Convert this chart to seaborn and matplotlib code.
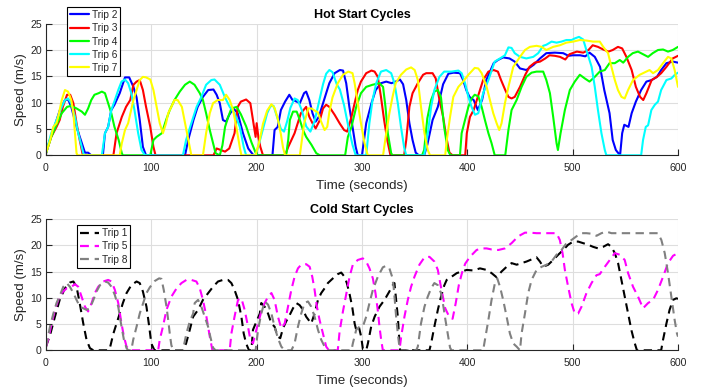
import matplotlib
matplotlib.use("Agg")
import matplotlib.pyplot as plt
from matplotlib.lines import Line2D
import seaborn as sns
import pandas as pd

# ---------------- Hot start trips (time in s, speed in m/s) ----------------
trip2_t = [0, 3, 7, 13, 18, 21, 24, 29, 34, 37, 40, 43,
           54, 56, 59, 62, 65, 70, 75, 79, 83, 86, 89, 92, 95,
           132, 135, 140, 144, 149, 154, 159, 162, 165, 168, 171, 174, 178, 182, 187, 192, 197,
           215, 217, 220, 223, 227, 231, 234, 238, 241, 245, 247, 250, 253, 256, 259, 263, 266, 269,
           274, 279, 282, 285, 288, 291, 294, 296,
           300, 304, 309, 313, 318, 323, 328, 332, 336, 339, 342, 345, 348, 351, 354,
           359, 362, 367, 372, 377, 382, 387, 393, 396, 399, 402, 406, 410, 414, 418, 425, 429, 434,
           440, 445, 450, 456, 463, 469, 475, 483, 491, 496, 500, 507, 512, 516, 521, 526, 530, 535,
           538, 541, 545, 547, 549, 553, 556, 560, 565, 570, 575, 580, 584, 589, 595, 600]
trip2_v = [0.4, 2.5, 4.8, 8.5, 10.5, 10.6, 9.2, 5.4, 2.3, 0.5, 0.5, 0,
           0, 4.2, 5.4, 8.6, 9.6, 11.8, 14.8, 14.8, 13, 11, 6.7, 1.6, 0,
           0, 2.9, 6.7, 9.2, 11.1, 12.4, 12.5, 11.5, 9.9, 6.7, 6.4, 7.7, 8.9, 8, 4.2, 1.3, 0,
           0, 4.8, 5.4, 8.6, 10.2, 11.5, 10.5, 10.2, 9.9, 11.8, 12.1, 10.5, 8, 6.4, 7.3, 9.9, 11.8, 13.7,
           15.6, 16.2, 16.1, 13.7, 9.2, 5.4, 1.6, 0,
           0, 6.1, 9.9, 12.4, 13.7, 14, 13.7, 14, 14.4, 13.5, 10.5, 6.1, 2.9, 0.5, 0,
           0, 2, 6.7, 9.2, 13.5, 15.5, 15.7, 15.6, 14.3, 12.4, 11.1, 10.5, 8.6, 10.5, 14.3, 17.5, 18.1, 18.6,
           18.4, 17.8, 16.5, 16.2, 17.2, 18.4, 19.4, 19.5, 19.4, 18.9, 19, 19, 18.8, 19.5, 18.7, 16.8, 12.4, 8,
           2.9, 1, 0, 4.2, 5.8, 5.4, 8, 10.2, 12.4, 14, 14.3, 14.9, 16.2, 17.5, 17.8, 17.6]

trip3_t = [0, 5, 10, 13, 16, 20, 23, 26, 29, 32, 35,
           64, 67, 72, 76, 80, 83, 86, 89, 92, 95, 99, 102, 104,
           159, 162, 166, 170, 174, 179, 182, 185, 190, 194, 197, 199, 200, 201.6, 203.5, 206,
           227, 230, 233, 236, 239, 242, 247, 250, 253, 256, 260, 263, 266, 269, 274, 279, 283, 286,
           290, 293, 296, 299, 304, 309, 312, 315, 318, 321, 324, 327,
           340, 342, 345, 348, 353, 358, 361, 367, 370, 373, 377, 380, 383, 386,
           398, 399.5, 402.5, 406, 409, 412, 415, 420, 425, 429, 432, 436, 439, 442, 445, 450, 455, 459,
           464, 469, 474, 478, 483, 488, 493, 497, 504, 510, 515, 519, 524, 529, 534, 538, 543, 547,
           551, 556, 560, 564, 567, 570, 575, 580, 584, 589, 595, 600]
trip3_v = [0.4, 3.5, 5.4, 6.7, 9.2, 11.5, 11.5, 9.9, 6.1, 2.9, 0,
           0, 4.2, 7.3, 9.2, 10.5, 13.4, 14, 14.3, 12.4, 9.2, 5.4, 1.6, 0,
           0, 1.3, 1, 0.7, 1.3, 4.2, 9.2, 10.2, 10.6, 9.9, 6, 3.5, 6.1, 3.5, 1.6, 0,
           0, 1.6, 2.9, 4.2, 6.1, 8, 9.2, 7.3, 6.1, 5.1, 6.7, 8.9, 9.6, 9.2, 7.7, 6, 4.8, 4.5,
           7.3, 9.9, 12.4, 14, 15.6, 16.1, 15.9, 14.9, 11.1, 6.7, 2.9, 0,
           0, 2.9, 9.2, 11.8, 13.7, 15.3, 15.6, 15.6, 14.6, 11.1, 7.3, 3.5, 0.5, 0,
           0, 4.2, 7.3, 8.6, 10.5, 12.4, 14.3, 15.9, 16.2, 15.9, 14.3, 12.4, 11.1, 10.8, 11.1, 13, 15.3, 16.8,
           17.6, 17.8, 18.4, 19, 18.9, 18.7, 18.2, 19.2, 19.7, 19.5, 20, 20.9, 20.6, 20.1, 19.7, 20, 20.6, 20.3,
           18.7, 16.2, 13, 11.1, 10.5, 11.8, 14.3, 14.9, 15.6, 16.8, 18.4, 18.9]

trip4_t = [0, 5, 10, 15, 20, 24, 29, 34, 37, 40, 43, 46, 50, 53, 56, 59, 62, 65, 69, 72, 73,
           99, 102, 105, 110, 114, 117.5, 122, 127, 132, 136.5, 141, 146, 149, 152, 155.5, 158.6, 161,
           165, 167.5, 170, 173, 176, 181, 185, 190, 195, 199, 201,
           228, 230, 231.5, 234.5, 238, 241, 244, 247, 252, 256.6, 260,
           284, 286.6, 290, 294.5, 299, 304, 310, 316.6, 320, 322.3, 324.5, 327.7, 329,
           357, 359, 362, 365.6, 368.7, 372, 375, 378, 381.4, 384,
           393, 394.6, 397.8, 401, 404, 407, 410.4, 413.6, 416.7, 420, 423, 426,
           436, 439, 442, 446.8, 451.5, 456, 461, 465.7, 472, 475, 478.4, 481.5, 484.7, 486, 488.5,
           492.6, 497.3, 502, 506.8, 511.5, 516, 521, 525.7, 530.5, 535, 540, 544.7, 548, 552.6, 557,
           562, 566.8, 571.6, 576, 581, 585.8, 590.5, 595, 600]
trip4_v = [0.4, 3.5, 5.8, 8, 9.2, 9.4, 8.9, 8.3, 7.7, 8.9, 10.5, 11.5, 11.8, 12.1, 11.8, 9.9, 8, 5.4, 2.9, 0.4, 0,
           0, 2.9, 3.5, 4.2, 6.7, 8.6, 10.5, 12.1, 13.4, 14, 13.4, 11.8, 10.5, 8, 4.8, 2.3, 0.4,
           0, 1.9, 5.4, 7.3, 8.9, 9.2, 7.8, 5.5, 2.5, 0.5, 0,
           0, 3, 6.7, 8.3, 8.3, 6.7, 4.8, 3.5, 2, 0.4, 0,
           0, 3.5, 5.4, 9.2, 11.8, 13, 13.4, 13.7, 13, 9.2, 4.2, 0.4, 0,
           0, 1, 7, 10.5, 12.1, 12.4, 11, 5.4, 1, 0,
           0, 4.2, 6.7, 9.2, 10.8, 11.5, 11.2, 9.2, 6.7, 4.2, 2.3, 0,
           0, 4.8, 8.6, 10.5, 13, 14.9, 15.7, 15.9, 15.9, 14.3, 11.8, 7.3, 2.3, 1, 4.2,
           8.6, 12.4, 14, 15.3, 14.6, 14, 14.9, 15.9, 16.2, 17.5, 17.5, 18.1, 17.6, 18.7, 19.4,
           19.7, 19.2, 18.7, 19.4, 20, 20.1, 19.7, 20, 20.6]

trip6_t = [0, 5, 10, 15, 18, 21, 24, 27.5, 30.6, 34, 36,
           53, 56, 59, 62, 65.4, 68.6, 71.7, 75, 78, 81, 84, 87.5, 90.7, 94,
           130, 133, 138, 143, 147.5, 152, 157, 160, 165, 169.7, 174.4, 179, 184, 187.7, 190,
           199, 202, 206, 210, 213, 216, 219, 223, 226, 229, 232, 236, 239, 243, 247, 251, 255, 259, 263,
           266, 269, 272, 276, 279, 283, 287, 291, 294,
           304, 307, 310, 313.5, 318, 323, 327.7, 330.8, 334, 337, 340, 342,
           359, 362.4, 365.6, 368.7, 373.5, 378, 385, 391.5, 394.6, 397.8, 401, 404, 407.3, 410.4, 415,
           420, 426, 431, 435.7, 439, 442, 445, 450, 456, 462.6, 467.3, 472, 475, 480, 484.7, 489.4,
           494, 499, 502, 506, 510, 513, 518, 521, 524, 527.3, 530.5, 532,
           565, 566.8, 569.4, 571.6, 574.7, 578, 581, 584, 589, 593.7, 597, 600]
trip6_v = [0.4, 4.2, 6.7, 9.2, 10.5, 10.8, 9.9, 7.3, 4.2, 1.6, 0,
           0, 4.2, 5.4, 8.6, 10.5, 12.4, 14, 14.4, 13.7, 11.8, 8.6, 4.2, 1, 0,
           0, 2.9, 6.1, 9.2, 11.1, 13.4, 14.3, 14.4, 13.4, 11.1, 9.2, 8, 5.4, 1.6, 0,
           0, 2, 5, 8, 9.3, 9.4, 7.5, 5, 4.5, 6.5, 9, 10.8, 10.5, 8.5, 5.5, 4.5, 6.5, 10, 13.5,
           15.5, 16.2, 15.8, 13.5, 12.5, 9.5, 5.5, 2, 0,
           0, 6.1, 10.5, 13.7, 15.9, 16.2, 15.6, 13.7, 9.9, 5.4, 1.5, 0,
           0, 4, 9.2, 12.4, 14.9, 15.9, 15.9, 16.1, 15.6, 13.7, 11.1, 9.2, 7.7, 8, 11.8,
           14.3, 17.8, 18.4, 19, 20.5, 20.4, 19.4, 18.7, 18.4, 18.7, 19.4, 20.8, 21, 21.6, 21.4, 21.6,
           21.9, 21.9, 22.2, 22.5, 22, 20, 16.8, 13, 8.6, 4.2, 1, 0,
           0, 2.9, 5.4, 5.7, 8.6, 9.6, 10.2, 12.4, 14.3, 14.6, 15.3, 15.7]

trip7_t = [0, 4, 7, 10, 12, 15, 18, 21, 24, 26, 27.5, 29, 30,
           70, 72, 75, 78, 83, 86, 89, 92, 95, 99, 102, 105, 108, 111, 114, 116, 119, 122, 125, 129,
           132, 135, 138,
           149, 152, 155.5, 158.6, 163, 168, 171, 174.4, 177.6, 180.7, 184, 185.5,
           199, 203, 206, 210, 214, 217, 220, 223, 225, 227,
           241, 245, 249, 252, 255, 258, 261, 264.5, 267, 269, 272, 277, 282, 287, 291, 293, 296, 299,
           302.4, 305.5,
           320, 323, 326, 329, 332, 337, 342, 346.6, 350, 353, 356, 359.3, 362.4, 364.6,
           379, 380.5, 383.6, 386.7, 391.5, 396, 401, 407, 410.4, 413.6, 418.3, 421.5, 424.6, 427.8,
           430.3, 432.5, 435.7, 439, 443.6, 450, 454.7, 459.4, 465.7, 470.5, 475, 481.5, 487.8, 494,
           500.5, 506.8, 513, 519.4, 525.7, 529, 533.6, 536.8, 540, 543, 546.3, 549.4, 552.6, 557.3,
           563.7, 570, 573, 576.3, 581, 585.8, 590.5, 593.7, 596.8, 600]
trip7_v = [0.4, 2.9, 5.4, 6.1, 7.7, 10.5, 12.4, 12.1, 10.5, 8, 4.2, 0.4, 0,
           0, 2.3, 4.8, 6.1, 10.5, 12.4, 14.3, 14.9, 14.8, 14.4, 12.4, 9.2, 6.1, 4.2, 6.1, 8, 9.2, 10.5, 10.5, 9.2,
           6.1, 2.9, 0,
           0, 4.2, 8, 9.9, 10.5, 10.5, 11.5, 10.5, 8.6, 5.4, 1.5, 0,
           0, 3, 6, 8.5, 9.7, 9, 7, 4, 1.5, 0,
           0, 6, 8.9, 8.9, 8.5, 8.2, 6.5, 4.8, 5.4, 8.2, 11, 13.7, 15.3, 15.9, 15.6, 13.7, 9.9, 6.1,
           2.3, 0,
           0, 4.2, 8, 11.1, 13.7, 15.3, 16.3, 16.7, 16.2, 14.3, 9.2, 4.2, 1, 0,
           0, 2.9, 7.3, 11.1, 13, 14, 15.3, 16.6, 16.5, 15.6, 13, 10.5, 8, 6.1,
           4.8, 6.1, 9.9, 13, 16.8, 18.7, 20, 20.6, 20.8, 20.6, 20, 20.6, 20.9, 21.4,
           21.6, 21.9, 21.8, 21.6, 21.6, 20.6, 19.4, 16.8, 14.3, 12.4, 11.1, 10.8, 12.4, 14.3,
           15.3, 15.9, 16.2, 15.6, 16.2, 17.5, 18.7, 18.4, 16.2, 13]

# ---------------- Cold start trips ----------------
trip1_t = [0, 4, 8.5, 13, 18, 22.7, 26, 29, 32, 35.4, 38.5, 41.7, 45,
           59, 61, 64, 67, 70, 73, 76.5, 81, 86, 89, 92, 95.4, 98, 100, 103,
           130, 133, 136.5, 139.7, 144.4, 149, 154, 158.6, 163.3, 168, 172.8, 176, 179, 182.3, 185.5,
           187.7, 190, 192.7, 195, 196.5, 199, 203, 204.4, 207.6, 210.8, 214, 217, 220, 222.4, 225,
           228, 231.3, 234.5, 237.6, 240.8, 244, 247, 250.3, 251.8, 255, 258.2, 261.3, 264.5, 267.6,
           272.4, 277, 280.3, 283.4, 285.6, 288, 290.7, 293, 294.5, 297, 299.2, 300.8, 304, 305.6,
           308.7, 312, 316.6, 321.4, 326, 329.2, 330.8, 332.4, 334, 335, 336.2,
           364, 365.6, 368.7, 372, 375, 378, 380.4, 385, 390, 394.6, 399.4, 405.7, 412, 418.3, 423,
           427.8, 432.5, 437.3, 442, 446.8, 451.5, 456.2, 461, 465.7, 468.9, 472, 476.8, 481.5, 486.3,
           491, 495.7, 500.5, 505.2, 510, 514.7, 519.4, 524.2, 528.9, 533.6, 536.8, 540, 543.1, 546.3,
           549.4, 552.6, 555.8, 559, 561, 584, 585.8, 589, 592, 595.3, 598.4, 600]
trip1_v = [0.7, 3, 6.4, 9.6, 11.8, 12.9, 13.1, 12.1, 9, 5.1, 2, 0.4, 0,
           0, 0.7, 3.2, 5.1, 7, 9, 10.9, 12.4, 13.1, 12.8, 11.2, 8.3, 4.5, 1.3, 0,
           0, 1.3, 3.9, 6.4, 7.7, 9.6, 10.9, 12.1, 13.1, 13.4, 13.4, 12.8, 11.5, 9.6, 6.4,
           3.2, 1.3, 0, 0, 3.9, 5.1, 7, 9, 8.3, 7, 5.1, 4.5, 2.6, 2.3, 4.2,
           5.5, 6.7, 8, 9, 8.6, 7.7, 6.4, 5.5, 5.1, 7, 9.6, 10.9, 11.8, 12.8,
           13.7, 14.5, 14.8, 14, 12.8, 10.9, 8.3, 5.1, 3.9, 4.5, 2.6, 0.3, 0, 1.3,
           4.5, 6.4, 8.3, 9.6, 11.2, 12.4, 12.8, 9.6, 6.4, 3.2, 0,
           0, 1.3, 4.5, 7.7, 10.2, 12.3, 13.4, 14, 14.7, 15, 15.3, 15.2, 15.6, 15.3, 14.7,
           13.9, 15, 15.9, 16.6, 16.3, 16.6, 16.9, 17.3, 17.7, 16.9, 15.9, 16.3, 17.2, 18.2,
           19.1, 20.1, 20.7, 20.7, 20.4, 20.1, 19.7, 19.4, 19.7, 20.2, 19.7, 18.5, 16.6, 13.4,
           10.2, 7, 3.8, 1.3, 0, 0, 2, 5.1, 7.7, 9.6, 9.9, 9.8]

trip5_t = [0, 2, 5.4, 8.5, 11.7, 14.8, 19.6, 24.3, 27.5, 30.6, 33.8, 37, 40, 43.3, 46.4, 49.6,
           54.3, 59, 62.2, 65.4, 68.6, 71.7, 74, 76.5, 79.6,
           106.5, 108, 111, 114.4, 119, 124, 128.6, 133.3, 138, 142.8, 146, 149, 152.3, 155.5, 158,
           174.4, 176, 179, 182.3, 185.5, 188.6, 191.8, 194, 196.5, 198, 201.3, 204.4, 207.6, 210.8,
           214, 217, 220.2, 223.4, 226.6, 229.7, 232.9, 236, 239.2, 242.3, 247, 250.3, 252.8, 255,
           257.2, 259.7, 262.9, 266, 268.6,
           277, 278.7, 281.9, 285, 288.2, 291.3, 296, 300.8, 304, 307.1, 310.3, 312.8, 315, 316.6,
           318.2, 319.8,
           335.6, 337.2, 340.3, 343.5, 346.6, 349.8, 354.5, 359.3, 364, 368.7, 372, 375, 379, 383,
           386, 389, 392, 395, 398, 402.5, 408.8, 413.6, 418.3, 423, 429.4, 435.7, 442, 448.3, 454.7,
           459.4, 465.7, 472, 478.4, 484.7, 487.8, 490.4, 492.6, 495.7, 498.9, 502, 505.2, 508.4,
           513.1, 517.9, 522.6, 525.7, 530.5, 535.2, 540, 544.7, 549.4, 552.6, 557.3, 562.1, 566.8,
           571.6, 576.3, 581, 585.8, 590.5, 595.3, 600]
trip5_v = [0.7, 2, 5.1, 7.7, 9.6, 10.9, 11.8, 12.1, 12.6, 12.1, 10.2, 8.3, 7.4, 9, 10.9, 12.1,
           13.1, 13.4, 13.1, 11.5, 9, 5.1, 2.6, 0.7, 0,
           0, 2, 4.5, 7.7, 10.2, 11.8, 12.8, 13.4, 13.4, 13.1, 11.8, 9.6, 6.4, 2.6, 0,
           0, 3.2, 6.4, 9.6, 9.9, 7.7, 4.5, 2, 1.3, 2.6, 5.1, 7.4, 9, 10.2,
           10.9, 9.6, 6.4, 4.2, 5.1, 8.3, 11.5, 14, 15.6, 16.3, 16.4, 15.9, 14, 11.5,
           8.3, 5.8, 3.2, 0.7, 0,
           0, 3.5, 7.4, 10.6, 14, 16.3, 17.2, 17.5, 16.9, 15.6, 13.7, 10.9, 7.6, 4.5,
           2, 0,
           0, 2.6, 6.4, 9.6, 12.1, 14, 16.3, 17.7, 17.8, 16.9, 15.3, 12, 8, 6.3,
           6, 9, 12.5, 14.8, 16.5, 17.8, 19.1, 19.4, 19.4, 19.2, 19.1, 19.4, 20.4, 21.7, 22.4,
           22.4, 22.3, 22.3, 22.3, 22.3, 21, 18.5, 15.3, 12.1, 9, 7, 7, 8.3,
           10.9, 12.8, 14.3, 14.5, 15.9, 17.2, 18.5, 18.2, 17.2, 14.7, 12.1, 10.2, 8,
           9, 9.6, 11.5, 14, 16.6, 18, 18.5]

trip8_t = [0, 3.8, 7, 10, 13.3, 16.4, 19.6, 22.7, 26, 29, 32.2, 35.4, 38.5, 41.7, 45, 48, 51.2,
           56, 59, 62.2, 65.4, 68.6, 71.7, 74, 76.5, 78, 81, 82.8, 86, 89, 92.3, 95.4, 98.6, 103.3,
           107.4, 109.6, 111.8, 114.4, 116, 117.5, 119, 120.7,
           130, 133.3, 136.5, 139.7, 141.2, 144.4, 147.5, 150.7, 153.9, 156, 158.6, 161,
           199, 201.3, 204.4, 207.6, 210.8, 214, 217, 220.2, 223.4, 226.6,
           233, 236, 239.2, 242.3, 245.5, 248.7, 251.8, 255, 258.2, 261.3, 264.5, 267.6,
           290, 291.3, 294.5, 297.7, 300.8, 304, 307.1, 310.3, 315, 319.8, 323, 326, 328.6, 330,
           331.1, 332.4, 334, 335.6, 336.5,
           351.4, 353, 356, 359.3, 362.4, 365.6, 368.7, 372, 375, 377.3, 379.2, 381.4, 383.6, 385,
           415, 416.7, 420, 423, 426.2, 428.4, 431, 434, 437.3, 440.4, 443.6, 446.8, 450, 451.5,
           454.7, 457.8, 461, 465.7, 470.5, 475.2, 479.9, 484.7, 489.4, 494.2, 498.9, 503.6, 508.4,
           513.1, 517.9, 522.6, 527.3, 532, 536.8, 541.5, 550, 560, 570, 581, 584.2, 587.4, 590.5,
           593.7, 596.8, 599, 600]
trip8_v = [0.7, 4.5, 7, 9, 10.5, 12.1, 12.8, 12.1, 10.9, 9.6, 8.3, 8, 7.7, 8, 9.6, 11.2, 12.4,
           13.1, 12.9, 12.1, 10.5, 8.3, 4.5, 2, 0.4, 0, 0, 2, 4.5, 7, 9, 10.9, 12, 13.2,
           13.7, 13.6, 11.5, 8.3, 5.8, 3.2, 1, 0,
           0, 3.2, 5.5, 7, 9, 9.6, 8.3, 6.4, 4.5, 2.6, 0.5, 0,
           0, 3.9, 7, 9.3, 8.7, 7, 4.5, 2.3, 0.7, 0,
           0, 1.3, 4.5, 7, 9, 9.3, 8.3, 6.4, 3.9, 2, 0.7, 0,
           0, 1.3, 3.9, 4.5, 4.5, 6.4, 9, 11.5, 14, 15.8, 16.1, 15.6, 14, 12.1,
           9.6, 6.4, 3.2, 0.5, 0,
           0, 0.7, 5.1, 8.3, 10.2, 11.8, 12.8, 12.4, 10.9, 8.3, 5.8, 3.2, 0.5, 0,
           0, 2, 5.8, 9.6, 12.8, 13.7, 12.1, 9.6, 6.4, 3.2, 1.3, 0.7, 0, 3.2,
           7, 10.9, 13.4, 15.3, 15.9, 16.3, 16.9, 18.2, 19.1, 20.4, 21, 21.7, 22.3,
           22.3, 22.2, 21.8, 22.3, 22.6, 22.3, 22.3, 22.3, 22.3, 22.3, 22.3, 21, 18.5, 14.7,
           10.2, 5.8, 3.2, 2.6]

hot_trips = ["Trip 2", "Trip 3", "Trip 4", "Trip 6", "Trip 7"]
hot_times = [trip2_t, trip3_t, trip4_t, trip6_t, trip7_t]
hot_speeds = [trip2_v, trip3_v, trip4_v, trip6_v, trip7_v]
hot_colors = ["#0000ff", "#ff0000", "#00ff00", "#00ffff", "#ffff00"]

cold_trips = ["Trip 1", "Trip 5", "Trip 8"]
cold_times = [trip1_t, trip5_t, trip8_t]
cold_speeds = [trip1_v, trip5_v, trip8_v]
cold_colors = ["#000000", "#ff00ff", "#808080"]

x_ticks = [0, 100, 200, 300, 400, 500, 600]
y_ticks = [0, 5, 10, 15, 20, 25]


def long_frame(names, times, speeds):
    parts = [pd.DataFrame({"trip": n, "time": t, "speed": v})
             for n, t, v in zip(names, times, speeds)]
    return pd.concat(parts, ignore_index=True)


hot_df = long_frame(hot_trips, hot_times, hot_speeds)
cold_df = long_frame(cold_trips, cold_times, cold_speeds)

sns.set_style("white")
plt.rcParams["font.family"] = ["Liberation Sans", "DejaVu Sans"]

fig = plt.figure(figsize=(7.01, 3.91), dpi=100)
ax1 = fig.add_axes([0.0656, 0.6028, 0.9016, 0.3366])
ax2 = fig.add_axes([0.0656, 0.1041, 0.9016, 0.3358])

AX_COLOR = "#262626"
dash_pat = (4.0, 2.6)

sns.lineplot(data=hot_df, x="time", y="speed", hue="trip", hue_order=hot_trips,
             palette=dict(zip(hot_trips, hot_colors)), estimator=None, sort=False,
             linewidth=1.5, legend=False, ax=ax1)
sns.lineplot(data=cold_df, x="time", y="speed", hue="trip", hue_order=cold_trips,
             palette=dict(zip(cold_trips, cold_colors)), style="trip", style_order=cold_trips,
             dashes={n: dash_pat for n in cold_trips}, estimator=None, sort=False,
             linewidth=1.5, legend=False, ax=ax2)

for ax, title in [(ax1, "Hot Start Cycles"), (ax2, "Cold Start Cycles")]:
    ax.set_xlim(0, 600)
    ax.set_ylim(0, 25)
    ax.set_xticks(x_ticks)
    ax.set_yticks(y_ticks)
    ax.grid(True, color="#dedede", linewidth=0.8)
    ax.set_axisbelow(True)
    for side in ["top", "right"]:
        ax.spines[side].set_visible(False)
    for side in ["left", "bottom"]:
        ax.spines[side].set_color(AX_COLOR)
        ax.spines[side].set_linewidth(0.8)
    ax.tick_params(direction="in", length=4, width=0.8, colors=AX_COLOR,
                   labelsize=7.6, bottom=True, left=True)
    ax.tick_params(axis="x", pad=5.5)
    ax.tick_params(axis="y", pad=3)
    ax.set_xlabel("Time (seconds)", fontsize=9.6, color=AX_COLOR, labelpad=5)
    ax.set_ylabel("Speed (m/s)", fontsize=9.6, color=AX_COLOR, labelpad=2)
    ax.set_title(title, fontsize=9, fontweight="bold", color="#000000", pad=4)

legend_kw = dict(loc="upper left", fontsize=7.3, frameon=True, fancybox=False,
                 edgecolor="#000000", framealpha=1, borderpad=0.3, labelspacing=0.32,
                 handlelength=1.9, handletextpad=0.25, borderaxespad=0)

hot_handles = [Line2D([], [], color=c, linewidth=1.6) for c in hot_colors]
leg1 = ax1.legend(hot_handles, hot_trips, bbox_to_anchor=(0.033, 1.127), **legend_kw)
leg1.get_frame().set_linewidth(0.8)

cold_handles = [Line2D([], [], color=c, linewidth=1.6, dashes=dash_pat) for c in cold_colors]
leg2 = ax2.legend(cold_handles, cold_trips, bbox_to_anchor=(0.049, 0.954), **legend_kw)
leg2.get_frame().set_linewidth(0.8)

fig.savefig("out.png", dpi=100)
